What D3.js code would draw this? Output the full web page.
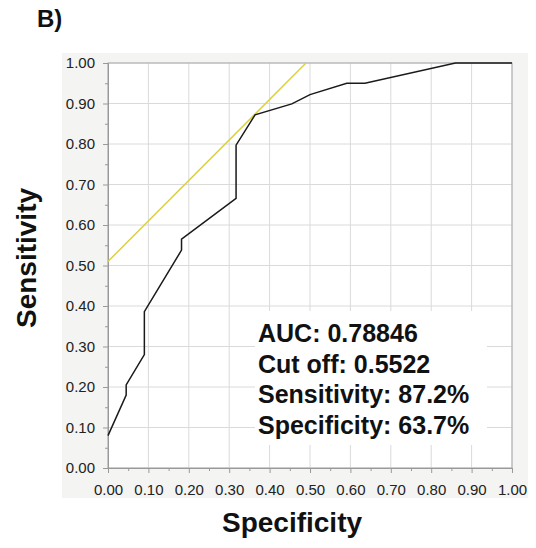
<!DOCTYPE html>
<html>
<head>
<meta charset="utf-8">
<script src="https://cdn.jsdelivr.net/npm/d3@7"></script>
<style>
  body { margin: 0; background: #fff; }
  text { font-family: "Liberation Sans", Arial, Helvetica, sans-serif; }
</style>
</head>
<body>
<div id="chart"></div>
<script>
// ROC curve
var spec = [0, 0.045, 0.045, 0.09, 0.09, 0.182, 0.182, 0.317, 0.317, 0.364, 0.455, 0.5, 0.591, 0.636, 0.86, 1.0];
var sens = [0.08, 0.18, 0.205, 0.28, 0.386, 0.538, 0.565, 0.666, 0.797, 0.872, 0.899, 0.922, 0.95, 0.95, 1.0, 1.0];
// yellow reference line
var refX = [0, 0.49];
var refY = [0.51, 1.0];
var tickVals = d3.range(0, 1.0001, 0.1);
var minorVals = d3.range(0.05, 1, 0.1);
var statLines = ["AUC: 0.78846", "Cut off: 0.5522", "Sensitivity: 87.2%", "Specificity: 63.7%"];

var w = 536, h = 548;
var mLeft = 108, mRight = 512, mTop = 63, mBottom = 468;

var svg = d3.select("#chart").append("svg")
    .attr("width", w)
    .attr("height", h);

var x = d3.scaleLinear().domain([0, 1]).range([mLeft, mRight]);
var y = d3.scaleLinear().domain([0, 1]).range([mBottom, mTop]);

// gray panel behind axes
svg.append("rect")
    .attr("x", 62).attr("y", 53)
    .attr("width", 466).attr("height", 445)
    .attr("fill", "#f4f4f2");

svg.append("rect")
    .attr("x", mLeft).attr("y", mTop)
    .attr("width", mRight - mLeft).attr("height", mBottom - mTop)
    .attr("fill", "#fff");

// grid
svg.append("g").selectAll("line")
    .data(tickVals)
    .enter().append("line")
    .attr("x1", function(d){ return x(d); })
    .attr("x2", function(d){ return x(d); })
    .attr("y1", mTop).attr("y2", mBottom)
    .attr("stroke", "#dadada").attr("stroke-width", 1);

svg.append("g").selectAll("line")
    .data(tickVals)
    .enter().append("line")
    .attr("y1", function(d){ return y(d); })
    .attr("y2", function(d){ return y(d); })
    .attr("x1", mLeft).attr("x2", mRight)
    .attr("stroke", "#dadada").attr("stroke-width", 1);

// frame
svg.append("rect")
    .attr("x", mLeft).attr("y", mTop)
    .attr("width", mRight - mLeft).attr("height", mBottom - mTop)
    .attr("fill", "none")
    .attr("stroke", "#aaa");

// axes
var xAxis = svg.append("g")
    .attr("transform", "translate(0," + mBottom + ")")
    .call(d3.axisBottom(x).tickValues(tickVals).tickFormat(d3.format(".2f")).tickSize(5).tickSizeOuter(0));
svg.append("g")
    .attr("transform", "translate(0," + mBottom + ")")
    .call(d3.axisBottom(x).tickValues(minorVals).tickFormat("").tickSize(3).tickSizeOuter(0));

var yAxis = svg.append("g")
    .attr("transform", "translate(" + mLeft + ",0)")
    .call(d3.axisLeft(y).tickValues(tickVals).tickFormat(d3.format(".2f")).tickSize(5).tickSizeOuter(0));
svg.append("g")
    .attr("transform", "translate(" + mLeft + ",0)")
    .call(d3.axisLeft(y).tickValues(minorVals).tickFormat("").tickSize(3).tickSizeOuter(0));

svg.selectAll(".domain").attr("stroke", "#999");
svg.selectAll(".tick line").attr("stroke", "#999");
svg.selectAll(".tick text")
    .attr("font-size", "15px")
    .attr("fill", "#222")
    .style("font-family", "'Liberation Sans', Arial, sans-serif");
xAxis.selectAll(".tick text").attr("y", 16);
yAxis.selectAll(".tick text").attr("x", -13);

// white box behind the stats
svg.append("rect")
    .attr("x", 255).attr("y", 311)
    .attr("width", 232).attr("height", 134)
    .attr("fill", "#fff");

// yellow line
svg.append("path")
    .datum(d3.zip(refX, refY))
    .attr("d", d3.line().x(function(d){ return x(d[0]); }).y(function(d){ return y(d[1]); }))
    .attr("fill", "none")
    .attr("stroke", "#dcd23c")
    .attr("stroke-width", 1.5);

// ROC curve
svg.append("path")
    .datum(d3.zip(spec, sens))
    .attr("d", d3.line().x(function(d){ return x(d[0]); }).y(function(d){ return y(d[1]); }))
    .attr("fill", "none")
    .attr("stroke", "#1a1a1a")
    .attr("stroke-width", 1.5);

// stats text
svg.append("g").selectAll("text")
    .data(statLines)
    .enter().append("text")
    .attr("x", 258)
    .attr("y", function(d, i){ return 342 + i * 30.5; })
    .attr("font-size", "25px")
    .attr("font-weight", "bold")
    .attr("fill", "#111")
    .text(function(d){ return d; });

// labels
svg.append("text")
    .attr("x", 292).attr("y", 532)
    .attr("text-anchor", "middle")
    .attr("font-size", "28px")
    .attr("font-weight", "bold")
    .attr("fill", "#111")
    .text("Specificity");

svg.append("text")
    .attr("transform", "translate(36,258) rotate(-90)")
    .attr("text-anchor", "middle")
    .attr("font-size", "28px")
    .attr("font-weight", "bold")
    .attr("fill", "#111")
    .text("Sensitivity");

svg.append("text")
    .attr("x", 37).attr("y", 27)
    .attr("font-size", "24px")
    .attr("font-weight", "bold")
    .attr("fill", "#111")
    .text("B)");
</script>
</body>
</html>
